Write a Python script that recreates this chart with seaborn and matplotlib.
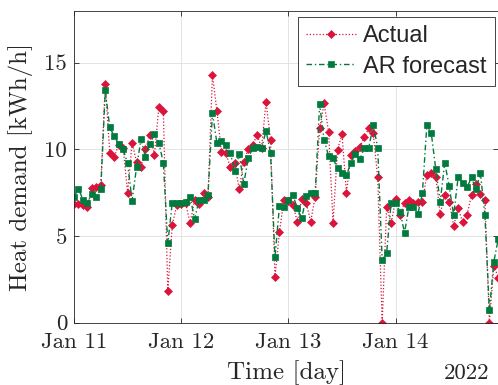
import numpy as np
import pandas as pd
import matplotlib
matplotlib.use("Agg")
import matplotlib.pyplot as plt
import matplotlib.dates as mdates
import seaborn as sns

# ---- data (hourly, starting 2022-01-11 00:00) ----
start_time = "2022-01-11 00:00"
n_hours = 96
actual = [6.85, 6.85, 6.80, 6.65, 7.80, 7.85, 7.95, 13.80, 9.80, 9.58,
          10.23, 10.10, 7.50, 10.38, 9.29, 8.96, 10.00, 10.83, 9.69, 12.42,
          12.23, 1.81, 5.65, 6.77, 6.85, 6.90, 5.73, 7.08, 6.85, 7.46,
          7.27, 14.29, 12.23, 9.87, 9.80, 8.96, 9.19, 7.69, 9.29, 10.00,
          10.25, 10.83, 10.10, 12.75, 10.54, 2.62, 5.25, 7.08, 7.04, 6.79,
          5.83, 7.12, 6.92, 5.83, 7.27, 11.21, 12.65, 11.02, 5.77, 9.96,
          10.88, 7.50, 9.67, 9.92, 10.15, 10.69, 11.21, 10.92, 8.38, 0.00,
          6.69, 5.73, 7.12, 6.21, 6.92, 7.08, 6.92, 6.98, 6.98, 8.52,
          8.62, 8.38, 6.27, 7.37, 6.98, 5.58, 6.60, 5.83, 6.21, 7.37,
          8.00, 7.42, 7.08, 0.00, 3.30, 2.60]
ar_forecast = [7.27, 7.73, 7.10, 6.90, 7.40, 7.27, 7.70, 13.40, 11.27, 10.77,
               10.30, 10.00, 9.19, 7.04, 8.96, 10.58, 9.58, 10.30, 10.88, 10.38,
               9.23, 4.58, 6.92, 6.92, 6.92, 6.95, 7.27, 5.96, 7.08, 7.08,
               7.38, 12.10, 10.35, 10.50, 10.25, 9.77, 8.77, 9.73, 8.00, 9.48,
               10.06, 10.15, 10.06, 11.08, 9.80, 3.77, 6.73, 6.65, 7.08, 7.37,
               6.60, 6.02, 7.31, 7.50, 7.50, 12.60, 10.54, 9.62, 9.48, 8.90,
               8.62, 8.52, 9.23, 9.73, 9.42, 10.10, 10.10, 11.40, 10.10, 3.62,
               4.04, 6.92, 6.92, 6.40, 5.19, 6.69, 6.69, 6.27, 7.46, 11.40,
               10.92, 8.85, 6.98, 9.23, 7.88, 6.21, 8.38, 8.04, 7.81, 8.38,
               7.69, 8.62, 6.21, 0.73, 3.52, 4.85]
series_labels = ["Actual", "AR forecast"]
y_ticks = [0, 5, 10, 15]
y_limits = (0, 18)
year_label = "2022"
x_label = "Time [day]"
y_label = "Heat demand [kWh/h]"

times = pd.date_range(start_time, periods=n_hours, freq="h")
df = pd.DataFrame({"time": times, "Actual": actual, "AR forecast": ar_forecast})

sns.set_theme(style="white")
plt.rcParams["font.family"] = ["Liberation Sans", "DejaVu Sans"]

fig = plt.figure(figsize=(4.98, 3.85), dpi=100)
ax = fig.add_axes([74 / 498, 62.3 / 385, 424.3 / 498, 312.0 / 385])

red = "#DC143C"
green = "#007A3D"

sns.lineplot(data=df, x="time", y="Actual", ax=ax, color=red, linestyle=(0, (1.0, 1.6)),
             linewidth=0.9, marker="D", markersize=4.4, markeredgewidth=0.5,
             markeredgecolor=red, markerfacecolor=red, label=series_labels[0],
             clip_on=True)
sns.lineplot(data=df, x="time", y="AR forecast", ax=ax, color=green,
             linestyle=(0, (4.0, 2.0, 1.0, 2.0)), linewidth=1.0, marker="s",
             markersize=4.6, markeredgewidth=0.5, markeredgecolor=green,
             markerfacecolor=green, label=series_labels[1], clip_on=True)

ax.set_xlim(times[0], times[-1])
ax.set_ylim(*y_limits)
ax.set_yticks(y_ticks)
ax.xaxis.set_major_locator(mdates.DayLocator())
ax.xaxis.set_major_formatter(mdates.DateFormatter("%b %d"))

spine_c = "#262626"
for s in ax.spines.values():
    s.set_color(spine_c)
    s.set_linewidth(0.6)
ax.grid(True, color="#dedede", linewidth=0.6)
ax.tick_params(direction="in", length=3.5, width=0.6, color=spine_c,
               top=True, right=True, bottom=True, left=True,
               labelsize=16.5, labelcolor="#262626")
ax.tick_params(axis="x", pad=7)
ax.tick_params(axis="y", pad=5)
for lab in ax.get_xticklabels() + ax.get_yticklabels():
    lab.set_fontfamily("cmr10")

ax.set_xlabel(x_label, fontfamily="cmr10", fontsize=18, color="#262626")
ax.set_ylabel(y_label, fontfamily="cmr10", fontsize=18, color="#262626")
ax.xaxis.set_label_coords(0.5, -0.1804)
ax.xaxis.label.set_va("baseline")
ax.yaxis.set_label_coords(-0.097, 0.5)

ax.text(0.980, -0.1804, year_label, transform=ax.transAxes, ha="right",
        va="baseline", fontfamily="cmr10", fontsize=16.5, color="#262626")

leg = ax.legend(loc="upper right", bbox_to_anchor=(1 - 3.5 / 424.3, 1 - 6.3 / 312),
                borderaxespad=0, fontsize=17, frameon=True, fancybox=False,
                framealpha=1, edgecolor=spine_c, borderpad=0.35, labelspacing=0.35,
                handlelength=2.1, handletextpad=0.3)
leg.get_frame().set_linewidth(0.6)

fig.savefig("out.png", dpi=100)
